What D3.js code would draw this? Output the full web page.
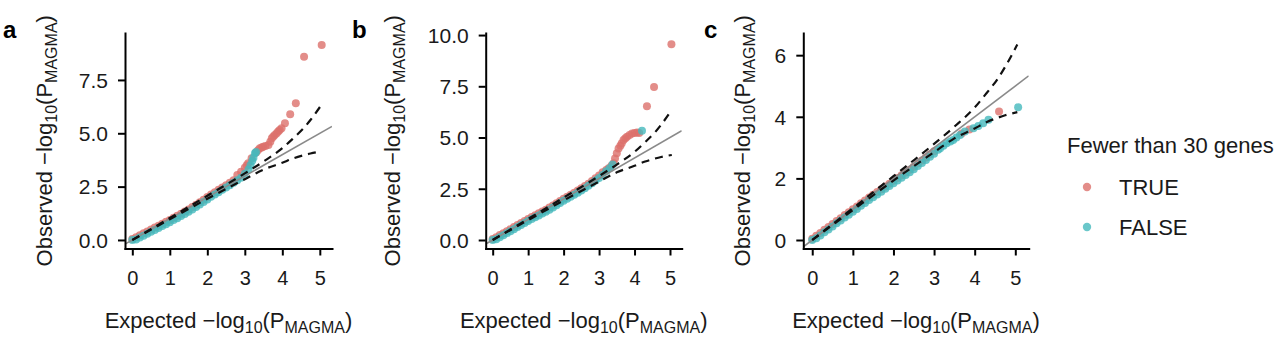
<!DOCTYPE html>
<html>
<head>
<meta charset="utf-8">
<script src="https://cdn.jsdelivr.net/npm/d3@7"></script>
<style>
  body { margin: 0; background: #fff; }
  text { font-family: "Liberation Sans", Arial, Helvetica, sans-serif; }
</style>
</head>
<body>
<svg id="chart"></svg>
<script>

// observed vs expected -log10(p)
const aTrue = [[0,0.05],[0.1,0.13],[0.2,0.22],[0.3,0.31],[0.4,0.40],[0.5,0.49],[0.6,0.58],[0.7,0.67],[0.8,0.76],[0.9,0.85],
  [1.0,0.94],[1.1,1.04],[1.2,1.13],[1.3,1.23],[1.4,1.33],[1.5,1.43],[1.6,1.54],[1.7,1.65],[1.8,1.77],[1.9,1.89],
  [2.0,2.01],[2.1,2.13],[2.2,2.24],[2.3,2.35],[2.4,2.46],[2.5,2.57],[2.6,2.68],[2.7,2.80],[2.8,3.05],[2.9,3.2],
  [3.0,3.38],[3.05,3.5],[3.09,3.6],[3.18,3.83],[3.3,4.1],[3.35,4.2],[3.4,4.3],[3.45,4.33],[3.49,4.37],[3.55,4.4],
  [3.63,4.45],[3.68,4.6],[3.72,4.77],[3.76,4.85],[3.8,4.92],[3.85,5.0],[3.89,5.08],[3.93,5.15],[3.98,5.23],
  [4.07,5.47],[4.21,5.89],[4.36,6.41],[4.58,8.59],[5.05,9.14]];
const aFalse = [[0,0],[0.1,0.02],[0.2,0.11],[0.3,0.20],[0.4,0.29],[0.5,0.38],[0.6,0.47],[0.7,0.56],[0.8,0.65],[0.9,0.74],
  [1.0,0.83],[1.1,0.93],[1.2,1.02],[1.3,1.12],[1.4,1.22],[1.5,1.32],[1.6,1.43],[1.7,1.54],[1.8,1.66],[1.9,1.78],
  [2.0,1.90],[2.1,2.02],[2.2,2.13],[2.3,2.24],[2.4,2.35],[2.5,2.46],[2.6,2.57],[2.7,2.68],[2.8,2.80],[2.9,2.92],
  [3.0,3.1],[3.1,3.3],[3.15,3.5],[3.2,3.7],[3.23,3.85],[3.27,4.06],[3.3,4.12]];

const bTrue = [[0,0.05],[0.1,0.14],[0.2,0.24],[0.3,0.33],[0.4,0.43],[0.5,0.53],[0.6,0.63],[0.7,0.73],[0.8,0.83],[0.9,0.93],
  [1.0,1.03],[1.1,1.12],[1.2,1.21],[1.3,1.30],[1.4,1.39],[1.5,1.48],[1.6,1.58],[1.7,1.68],[1.8,1.79],[1.9,1.90],
  [2.0,2.01],[2.1,2.11],[2.2,2.21],[2.3,2.31],[2.4,2.41],[2.5,2.52],[2.6,2.63],[2.7,2.75],[2.8,2.88],[2.9,3.01],
  [3.0,3.15],[3.1,3.3],[3.2,3.42],[3.27,3.5],[3.35,3.62],[3.41,3.74],[3.45,3.98],[3.5,4.23],[3.55,4.47],[3.6,4.6],
  [3.64,4.72],[3.69,4.88],[3.74,4.96],[3.79,5.04],[3.86,5.12],[3.93,5.2],[4.0,5.22],[4.07,5.24],[4.13,5.22],
  [4.35,6.52],[4.55,7.47],[5.04,9.55]];
const bFalse = [[0,0],[0.1,0.04],[0.2,0.14],[0.3,0.23],[0.4,0.33],[0.5,0.43],[0.6,0.53],[0.7,0.63],[0.8,0.73],[0.9,0.83],
  [1.0,0.93],[1.1,1.02],[1.2,1.11],[1.3,1.20],[1.4,1.29],[1.5,1.38],[1.6,1.48],[1.7,1.58],[1.8,1.69],[1.9,1.80],
  [2.0,1.91],[2.1,2.01],[2.2,2.11],[2.3,2.21],[2.4,2.31],[2.5,2.42],[2.6,2.53],[2.7,2.65],[2.8,2.77],[2.9,2.90],
  [3.0,3.03],[3.1,3.17],[3.2,3.35],[3.3,3.5],[3.38,3.68],[4.21,5.33]];

const cTrue = [[0,0.04],[0.1,0.14],[0.2,0.23],[0.3,0.33],[0.4,0.42],[0.5,0.52],[0.6,0.62],[0.7,0.71],[0.8,0.81],[0.9,0.90],
  [1.0,1.0],[1.1,1.09],[1.2,1.19],[1.3,1.28],[1.4,1.38],[1.5,1.47],[1.6,1.56],[1.7,1.65],[1.8,1.74],[1.9,1.83],
  [2.0,1.92],[2.1,2.01],[2.2,2.10],[2.3,2.19],[2.4,2.28],[2.5,2.38],[2.6,2.48],[2.7,2.58],[2.8,2.68],[2.9,2.78],
  [3.0,2.88],[3.68,3.46],[3.87,3.59],[4.6,4.17]];
const cFalse = [[0,0],[0.1,0.06],[0.2,0.15],[0.3,0.25],[0.4,0.34],[0.5,0.44],[0.6,0.54],[0.7,0.63],[0.8,0.73],[0.9,0.82],
  [1.0,0.92],[1.1,1.01],[1.2,1.11],[1.3,1.20],[1.4,1.30],[1.5,1.39],[1.6,1.48],[1.7,1.57],[1.8,1.66],[1.9,1.75],
  [2.0,1.84],[2.1,1.93],[2.2,2.02],[2.3,2.11],[2.4,2.20],[2.5,2.30],[2.6,2.40],[2.7,2.50],[2.8,2.60],[2.9,2.70],
  [3.0,2.80],[3.1,2.93],[3.15,2.98],[3.23,3.06],[3.31,3.14],[3.4,3.2],[3.47,3.25],[3.55,3.33],[3.64,3.41],[3.76,3.52],
  [3.97,3.63],[4.09,3.7],[4.21,3.79],[4.34,3.9],[5.07,4.31]];

// 95% band (dashed), same for all three panels
const ciX     = [0, 1, 2, 3, 3.5, 4, 4.3, 4.57, 4.75, 5.05];
const ciUpper = [0, 1.03, 2.07, 3.12, 3.68, 4.3, 4.78, 5.24, 5.62, 6.35];
const ciLower = [0, 0.97, 1.93, 2.85, 3.3, 3.62, 3.83, 3.97, 4.05, 4.15];

const xTicks = [0, 1, 2, 3, 4, 5];
const yTicksA = [0, 2.5, 5, 7.5];
const yTicksB = [0, 2.5, 5, 7.5, 10];
const yTicksC = [0, 2, 4, 6];

const groups = ['TRUE', 'FALSE'];
const legendTitle = 'Fewer than 30 genes';

const width = 1280;
const height = 344;

const color = d3.scaleOrdinal()
  .domain(groups)
  .range(['#DC716B', '#45B9BD']);

// panel layout (pixels) + axis domains
const panels = [
  { label: 'a', t: aTrue, f: aFalse, yTicks: yTicksA, fmt: d3.format('.1f'),
    left: 125, right: 332, xDom: [-0.195, 5.325], yDom: [-0.4, 9.7],
    labelX: 3, yTitleX: 52 },
  { label: 'b', t: bTrue, f: bFalse, yTicks: yTicksB, fmt: d3.format('.1f'),
    left: 485.7, right: 681.7, xDom: [-0.197, 5.33], yDom: [-0.415, 10.1],
    labelX: 352, yTitleX: 400 },
  { label: 'c', t: cTrue, f: cFalse, yTicks: yTicksC, fmt: d3.format('d'),
    left: 803.3, right: 1028.7, xDom: [-0.22, 5.33], yDom: [-0.276, 6.72],
    labelX: 704, yTitleX: 750 }
];
const panelTop = 33;
const panelBottom = 248.5;

const svg = d3.select('#chart')
  .attr('width', width)
  .attr('height', height);

// -log10(P_MAGMA) with subscripts
function addTitle(sel, prefix) {
  sel.append('tspan').text(prefix + ' \u2212log');
  sel.append('tspan').text('10').attr('font-size', '16px').attr('dy', 5);
  sel.append('tspan').text('(P').attr('dy', -5);
  sel.append('tspan').text('MAGMA').attr('font-size', '16px').attr('dy', 5);
  sel.append('tspan').text(')').attr('dy', -5);
}

panels.forEach(p => {
  const g = svg.append('g').attr('class', 'panel-' + p.label);

  const x = d3.scaleLinear().domain(p.xDom).range([p.left, p.right]);
  const y = d3.scaleLinear().domain(p.yDom).range([panelBottom, panelTop]);

  const clipId = 'clip-' + p.label;
  g.append('clipPath').attr('id', clipId)
    .append('rect')
    .attr('x', p.left).attr('y', panelTop)
    .attr('width', p.right - p.left).attr('height', panelBottom - panelTop);

  const plot = g.append('g').attr('clip-path', `url(#${clipId})`);

  // points, TRUE under FALSE
  [['TRUE', p.t], ['FALSE', p.f]].forEach(([grp, pts]) => {
    plot.append('g').selectAll('circle')
      .data(pts)
      .enter()
      .append('circle')
      .attr('cx', d => x(d[0]))
      .attr('cy', d => y(d[1]))
      .attr('r', 4)
      .attr('fill', color(grp))
      .attr('fill-opacity', 0.8);
  });

  // y = x reference
  plot.append('line')
    .attr('x1', x(p.xDom[0])).attr('y1', y(p.xDom[0]))
    .attr('x2', x(p.xDom[1])).attr('y2', y(p.xDom[1]))
    .attr('stroke', '#8a8a8a')
    .attr('stroke-width', 1.6);

  // dashed confidence lines
  [ciUpper, ciLower].forEach(vals => {
    const line = d3.line()
      .x((d, j) => x(ciX[j]))
      .y(d => y(d))
      .curve(d3.curveMonotoneX);
    plot.append('path')
      .attr('d', line(vals))
      .attr('fill', 'none')
      .attr('stroke', '#111')
      .attr('stroke-width', 2.2)
      .attr('stroke-dasharray', '8,6');
  });

  // axes
  const xAxis = d3.axisBottom(x).tickValues(xTicks).tickFormat(d3.format('d'))
    .tickSize(7).tickSizeOuter(0).tickPadding(15);
  const yAxis = d3.axisLeft(y).tickValues(p.yTicks).tickFormat(p.fmt)
    .tickSize(7).tickSizeOuter(0).tickPadding(10);

  const gx = g.append('g').attr('transform', `translate(0,${panelBottom})`).call(xAxis);
  const gy = g.append('g').attr('transform', `translate(${p.left},0)`).call(yAxis);
  [gx, gy].forEach(ax => {
    ax.select('.domain').attr('stroke', '#000').attr('stroke-width', 2).attr('stroke-linecap', 'square');
    ax.selectAll('.tick line').attr('stroke', '#000').attr('stroke-width', 2);
    ax.selectAll('.tick text')
      .attr('fill', '#1a1a1a')
      .style('font-family', '"Liberation Sans", Arial, sans-serif');
  });
  gx.selectAll('.tick text').style('font-size', '20px');
  gy.selectAll('.tick text').style('font-size', '21px').attr('dy', '0.35em');

  // axis titles
  g.append('text')
    .attr('x', (p.left + p.right) / 2)
    .attr('y', 328)
    .attr('text-anchor', 'middle')
    .attr('fill', '#1a1a1a')
    .style('font-size', '22px')
    .call(addTitle, 'Expected');

  g.append('text')
    .attr('transform', `translate(${p.yTitleX},${(panelTop + panelBottom) / 2}) rotate(-90)`)
    .attr('text-anchor', 'middle')
    .attr('fill', '#1a1a1a')
    .style('font-size', '22px')
    .call(addTitle, 'Observed');

  // panel letter
  g.append('text')
    .attr('x', p.labelX)
    .attr('y', 38)
    .attr('fill', '#000')
    .style('font-size', '24px')
    .style('font-weight', '700')
    .text(p.label);
});

// legend
const legend = svg.append('g').attr('class', 'legend');
legend.append('text')
  .attr('x', 1067)
  .attr('y', 153)
  .attr('fill', '#1a1a1a')
  .style('font-size', '22px')
  .text(legendTitle);

legend.selectAll('circle')
  .data(groups)
  .enter()
  .append('circle')
  .attr('cx', 1087)
  .attr('cy', (d, i) => 187 + i * 40)
  .attr('r', 4.2)
  .attr('fill', d => color(d))
  .attr('fill-opacity', 0.8);

legend.selectAll('text.key')
  .data(groups)
  .enter()
  .append('text')
  .attr('class', 'key')
  .attr('x', 1119)
  .attr('y', (d, i) => 195 + i * 40)
  .attr('fill', '#1a1a1a')
  .style('font-size', '22px')
  .text(d => d);

</script>
</body>
</html>
